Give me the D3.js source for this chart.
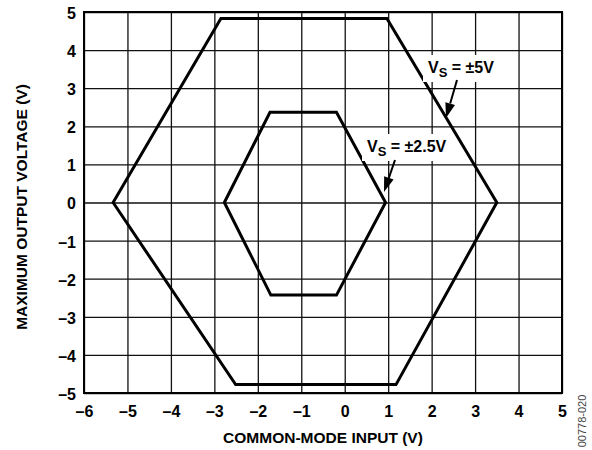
<!DOCTYPE html>
<html>
<head>
<meta charset="utf-8">
<script src="https://cdn.jsdelivr.net/npm/d3@7"></script>
<style>
  body { margin: 0; background: #fff; }
  svg text { font-family: "Liberation Sans", Arial, sans-serif; font-weight: bold; }
  .axis .domain { display: none; }
  .axis line { stroke: #111; stroke-width: 1.3px; }
  .axis text { font-size: 16px; fill: #000; }
</style>
</head>
<body>
<svg id="chart" width="592" height="450"></svg>
<script>
// common-mode input (V) vs max output voltage (V), hexagon corners
var outerX = [-5.33, -2.85, 0.97, 3.50, 1.18, -2.51],
    outerY = [0, 4.83, 4.83, 0, -4.78, -4.78];
var innerX = [-2.77, -1.72, -0.19, 0.94, -0.19, -1.70],
    innerY = [0, 2.37, 2.37, 0, -2.43, -2.43];
var xTicks = [-6, -5, -4, -3, -2, -1, 0, 1, 2, 3, 4, 5],
    yTicks = [-5, -4, -3, -2, -1, 0, 1, 2, 3, 4, 5];

var svg = d3.select("#chart"),
    margin = {top: 12, right: 30, bottom: 57, left: 84},
    width = +svg.attr("width") - margin.left - margin.right,
    height = +svg.attr("height") - margin.top - margin.bottom;

var x = d3.scaleLinear().domain([-6, 5]).range([0, width]),
    y = d3.scaleLinear().domain([-5, 5]).range([height, 0]);

var g = svg.append("g")
    .attr("transform", "translate(" + margin.left + "," + margin.top + ")");

function fmt(d) { return d < 0 ? "\u2013" + Math.abs(d) : "" + d; }

g.append("g")
    .attr("class", "axis axis--x")
    .attr("transform", "translate(0," + height + ")")
    .call(d3.axisBottom(x).tickValues(xTicks).tickSize(-height).tickFormat(fmt))
  .selectAll("text")
    .attr("y", 24).attr("dy", 0);

g.append("g")
    .attr("class", "axis axis--y")
    .call(d3.axisLeft(y).tickValues(yTicks).tickSize(-width).tickFormat(fmt))
  .selectAll("text")
    .attr("x", -8).attr("dy", "0.4em");

g.append("rect")
    .attr("width", width).attr("height", height)
    .attr("fill", "none").attr("stroke", "#000").attr("stroke-width", 2);

// labels with white boxes
var labels = [
  {text: " = \u00b15V", vx: 428, vy: 73, from: [457, 80], to: [446, 118]},
  {text: " = \u00b12.5V", vx: 367, vy: 152, from: [395, 160], to: [384, 192]}
];

var boxLayer = svg.append("g");

var line = d3.line()
    .x(function(d) { return x(d[0]); })
    .y(function(d) { return y(d[1]); })
    .curve(d3.curveLinearClosed);

[[outerX, outerY], [innerX, innerY]].forEach(function(s) {
  g.append("path")
      .datum(s[0].map(function(v, i) { return [v, s[1][i]]; }))
      .attr("d", line)
      .attr("fill", "none")
      .attr("stroke", "#000")
      .attr("stroke-width", 3)
      .attr("stroke-linejoin", "miter");
});

labels.forEach(function(l) {
  var t = svg.append("text")
      .attr("x", l.vx).attr("y", l.vy)
      .style("font-size", "16px");
  t.append("tspan").text("V");
  t.append("tspan").attr("dy", 4).style("font-size", "13px").text("S");
  t.append("tspan").attr("dy", -4).text(l.text);
  var bb = t.node().getBBox();
  boxLayer.append("rect")
      .attr("x", bb.x - 5).attr("y", bb.y - 4)
      .attr("width", bb.width + 10).attr("height", bb.height + 6)
      .attr("fill", "#fff");

  var dx = l.to[0] - l.from[0], dy = l.to[1] - l.from[1],
      len = Math.sqrt(dx * dx + dy * dy), ux = dx / len, uy = dy / len,
      hl = 15, hw = 5;
  var bx = l.to[0] - ux * hl, by = l.to[1] - uy * hl;
  svg.append("line")
      .attr("x1", l.from[0]).attr("y1", l.from[1])
      .attr("x2", bx).attr("y2", by)
      .attr("stroke", "#000").attr("stroke-width", 2);
  svg.append("path")
      .attr("d", "M" + l.to[0] + "," + l.to[1] +
        "L" + (bx - uy * hw) + "," + (by + ux * hw) +
        "L" + (bx + uy * hw) + "," + (by - ux * hw) + "Z")
      .attr("fill", "#000");
});

svg.append("text")
    .attr("x", margin.left + width / 2).attr("y", 443)
    .attr("text-anchor", "middle")
    .style("font-size", "15.5px")
    .text("COMMON-MODE INPUT (V)");

svg.append("text")
    .attr("transform", "translate(27,207) rotate(-90)")
    .attr("text-anchor", "middle")
    .style("font-size", "15.5px")
    .text("MAXIMUM OUTPUT VOLTAGE (V)");

svg.append("text")
    .attr("transform", "translate(586,421) rotate(-90)")
    .attr("text-anchor", "middle")
    .style("font-size", "11px")
    .style("font-weight", "normal")
    .attr("fill", "#444")
    .text("00778-020");
</script>
</body>
</html>
